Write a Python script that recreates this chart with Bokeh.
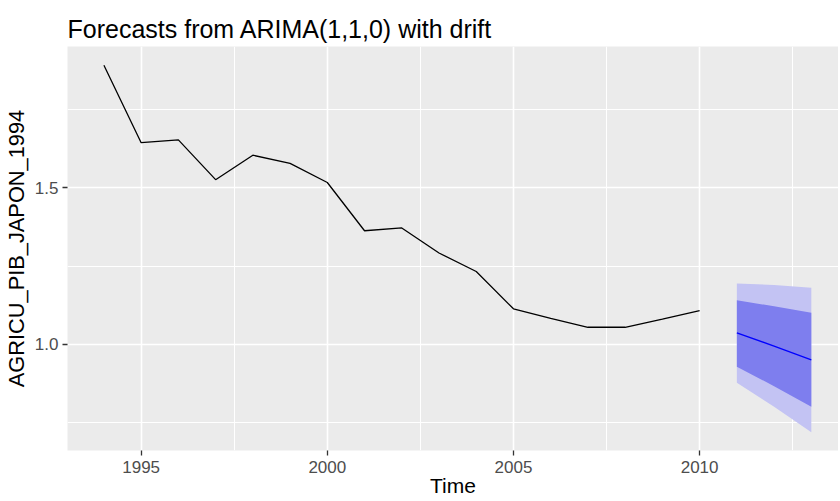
from bokeh.plotting import figure
from bokeh.models import Range1d, FixedTicker, PrintfTickFormatter
from bokeh.embed import file_html
from bokeh.resources import INLINE

# ---- data ----
years = [1994, 1995, 1996, 1997, 1998, 1999, 2000, 2001, 2002,
         2003, 2004, 2005, 2006, 2007, 2008, 2009, 2010]
values = [1.891, 1.644, 1.653, 1.526, 1.604, 1.578, 1.517, 1.363, 1.372,
          1.292, 1.233, 1.114, 1.083, 1.055, 1.055, 1.081, 1.108]

fc_years = [2011, 2012, 2013]
fc_mean = [1.037, 0.995, 0.951]
lo80 = [0.929, 0.867, 0.801]
hi80 = [1.141, 1.122, 1.101]
lo95 = [0.878, 0.801, 0.720]
hi95 = [1.195, 1.190, 1.181]

x_ticks = [1995, 2000, 2005, 2010]
x_minor = [1992.5, 1997.5, 2002.5, 2007.5, 2012.5]
y_ticks = [1.0, 1.5]
y_minor = [0.75, 1.25, 1.75]

title_text = "Forecasts from ARIMA(1,1,0) with drift"
x_label = "Time"
y_label = "AGRICU_PIB_JAPON_1994"

FONT = "Liberation Sans"

p = figure(width=838, height=500, output_backend="svg", toolbar_location=None,
           x_range=Range1d(1993.022, 2013.73), y_range=Range1d(0.6617, 1.951),
           min_border_left=67, min_border_right=0, min_border_top=46,
           min_border_bottom=50)

p.background_fill_color = "#EBEBEB"
p.border_fill_color = "white"
p.outline_line_color = None

# title
p.title.text = title_text
p.title.text_font = FONT
p.title.text_font_size = "25px"
p.title.text_font_style = "normal"
p.title.text_color = "black"
p.title.align = "left"
p.title.standoff = 8

# tickers
p.xaxis.ticker = FixedTicker(ticks=x_ticks, minor_ticks=x_minor)
p.yaxis.ticker = FixedTicker(ticks=y_ticks, minor_ticks=y_minor)
p.yaxis.formatter = PrintfTickFormatter(format="%.1f")

for ax in (p.xaxis, p.yaxis):
    ax.axis_line_color = None
    ax.major_tick_in = 0
    ax.major_tick_out = 5
    ax.major_tick_line_color = "#333333"
    ax.major_tick_line_width = 1.3
    ax.minor_tick_in = 0
    ax.minor_tick_out = 0
    ax.major_label_text_font = FONT
    ax.major_label_text_font_size = "17px"
    ax.major_label_text_color = "#4D4D4D"
    ax.axis_label_text_font = FONT
    ax.axis_label_text_font_style = "normal"
    ax.axis_label_text_color = "black"

p.yaxis.axis_label = y_label
p.yaxis.axis_label_text_font_size = "21.8px"
p.yaxis.major_label_standoff = 4
p.yaxis.axis_label_standoff = 3

p.xaxis.axis_label = x_label
p.xaxis.axis_label_text_font_size = "21px"
p.xaxis.major_label_standoff = 5
p.xaxis.axis_label_standoff = -2

# grids
for g in (p.xgrid, p.ygrid):
    g.grid_line_color = "white"
    g.grid_line_width = 1.6
    g.minor_grid_line_color = "white"
    g.minor_grid_line_width = 1.0

# series
p.line(years, values, line_color="black", line_width=1.3)

# forecast bands
p.varea(x=fc_years, y1=lo95, y2=hi95, fill_color="#C3C3F3")
p.varea(x=fc_years, y1=lo80, y2=hi80, fill_color="#7E7EEE")
p.line(fc_years, fc_mean, line_color="#0000FF", line_width=1.3)

open("out.html", "w").write(file_html(p, INLINE))
